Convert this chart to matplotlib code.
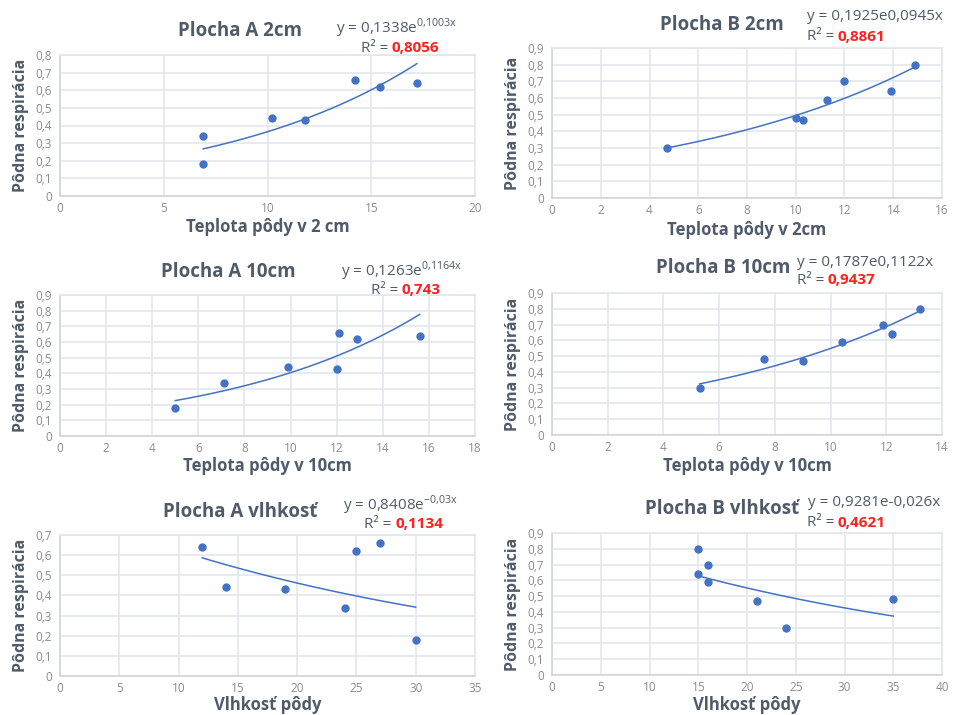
import numpy as np
import matplotlib.pyplot as plt

plt.rcParams['font.family'] = ['Open Sans', 'DejaVu Sans']
plt.rcParams['mathtext.fontset'] = 'custom'
plt.rcParams['mathtext.rm'] = 'Open Sans'

# Plocha A, teplota v 2 cm
a2_x = [6.9, 6.9, 10.2, 11.8, 14.2, 15.4, 17.2]
a2_y = [0.34, 0.18, 0.44, 0.43, 0.66, 0.62, 0.64]
a2_coef = (0.1338, 0.1003)
# Plocha B, teplota v 2 cm
b2_x = [4.7, 10.0, 10.3, 11.3, 12.0, 13.9, 14.9]
b2_y = [0.30, 0.48, 0.47, 0.59, 0.70, 0.64, 0.80]
b2_coef = (0.1925, 0.0945)
# Plocha A, teplota v 10 cm
a10_x = [5.0, 7.1, 9.9, 12.0, 12.1, 12.9, 15.6]
a10_y = [0.18, 0.34, 0.44, 0.43, 0.66, 0.62, 0.64]
a10_coef = (0.1263, 0.1164)
# Plocha B, teplota v 10 cm
b10_x = [5.3, 7.6, 9.0, 10.4, 11.9, 12.2, 13.2]
b10_y = [0.30, 0.48, 0.47, 0.59, 0.70, 0.64, 0.80]
b10_coef = (0.1787, 0.1122)
# Plocha A, vlhkosť
av_x = [12, 14, 19, 24, 25, 27, 30]
av_y = [0.64, 0.44, 0.43, 0.34, 0.62, 0.66, 0.18]
av_coef = (0.8408, -0.03)
# Plocha B, vlhkosť
bv_x = [15, 15, 16, 16, 21, 24, 35]
bv_y = [0.80, 0.64, 0.70, 0.59, 0.47, 0.30, 0.48]
bv_coef = (0.9281, -0.026)

W, H = 956, 715
fig = plt.figure(figsize=(W / 100, H / 100), dpi=100)

TITLE_C = '#4f5b6b'
TICK_C = '#8c8c8c'
GRID_C = '#e3e7ed'
BLUE = '#4472c4'


def px_axes(x0, x1, y_top, y_bot):
    return fig.add_axes([x0 / W, 1 - y_bot / H, (x1 - x0) / W, (y_bot - y_top) / H])


def panel(box, xs, ys, coef, xmax, xstep, ymax, title, eq, r2, xlabel,
          title_pos, eq_pos, r2_pos, xlabel_y, eq_sup):
    ax = px_axes(*box)
    ax.scatter(xs, ys, s=36, color=BLUE, zorder=3, linewidths=0)
    # exponential trend line from the printed coefficients
    a, b = coef
    tx = np.linspace(min(xs), max(xs), 100)
    ax.plot(tx, a * np.exp(b * tx), color=BLUE, lw=1.1, zorder=2)
    ax.set_xlim(0, xmax)
    ax.set_ylim(0, ymax)
    xt = np.arange(0, xmax + 0.01, xstep)
    ax.set_xticks(xt)
    ax.set_xticklabels([f'{v:g}' for v in xt])
    ax.set_yticks(np.arange(0, ymax + 0.001, 0.1))
    ax.set_yticklabels(['0'] + [f'{v:.1f}'.replace('.', ',')
                                for v in np.arange(0.1, ymax + 0.001, 0.1)])
    ax.grid(True, color=GRID_C, lw=1.2)
    ax.set_axisbelow(True)
    for s in ax.spines.values():
        s.set_color(GRID_C)
        s.set_linewidth(1.2)
    ax.spines['left'].set_color('#d0d5dc')
    ax.spines['bottom'].set_color('#d0d5dc')
    ax.tick_params(axis='y', length=0, labelsize=8.5, colors=TICK_C, pad=6)
    ax.tick_params(axis='x', length=0, labelsize=8.5, colors=TICK_C, pad=4)
    ax.set_ylabel('Pôdna respirácia', fontsize=11.5, fontweight='bold', color=TITLE_C, labelpad=4)
    fig.text(title_pos[0] / W, 1 - title_pos[1] / H, title, fontsize=13.5, fontweight='bold',
             color=TITLE_C, ha='center', va='center')
    base, expo = eq
    if eq_sup:
        sup = expo.replace(',', '{,}')
        eq_txt = rf'y = {base}e$^{{\mathrm{{{sup}}}}}$'
    else:
        eq_txt = f'y = {base}e{expo}'
    fig.text(eq_pos[0] / W, 1 - eq_pos[1] / H, eq_txt, fontsize=11, color=TITLE_C,
             ha='left', va='center')
    fig.text(r2_pos[0] / W, 1 - r2_pos[1] / H, 'R² = ', fontsize=11, color=TITLE_C,
             ha='right', va='center')
    fig.text(r2_pos[0] / W, 1 - r2_pos[1] / H, r2, fontsize=11, color='#ff2020',
             fontweight='bold', ha='left', va='center')
    fig.text((box[0] + box[1]) / 2 / W, 1 - xlabel_y / H, xlabel, fontsize=12,
             fontweight='bold', color=TITLE_C, ha='center', va='center')
    return ax


panel((60, 475, 55, 196), a2_x, a2_y, a2_coef, 20, 5, 0.8, 'Plocha A 2cm',
      ('0,1338', '0,1003x'), '0,8056', 'Teplota pôdy v 2 cm',
      (240, 31), (336, 28), (392, 48), 227, True)
panel((552, 942, 48, 198), b2_x, b2_y, b2_coef, 16, 2, 0.9, 'Plocha B 2cm',
      ('0,1925', '0,0945x'), '0,8861', 'Teplota pôdy v 2cm',
      (722, 25), (807, 17), (838, 37), 230, False)
panel((60, 475, 295, 436), a10_x, a10_y, a10_coef, 18, 2, 0.9, 'Plocha A 10cm',
      ('0,1263', '0,1164x'), '0,743', 'Teplota pôdy v 10cm',
      (228, 272), (341, 271), (402, 290), 466, True)
panel((552, 942, 293, 435), b10_x, b10_y, b10_coef, 14, 2, 0.9, 'Plocha B 10cm',
      ('0,1787', '0,1122x'), '0,9437', 'Teplota pôdy v 10cm',
      (723, 268), (797, 262), (828, 280), 466, False)
panel((60, 475, 535, 676), av_x, av_y, av_coef, 35, 5, 0.7, 'Plocha A vlhkosť',
      ('0,8408', '-0,03x'), '0,1134', 'Vlhkosť pôdy',
      (240, 512), (343, 505), (395, 524), 705, True)
panel((552, 942, 533, 675), bv_x, bv_y, bv_coef, 40, 5, 0.9, 'Plocha B vlhkosť',
      ('0,9281', '-0,026x'), '0,4621', 'Vlhkosť pôdy',
      (722, 509), (808, 503), (838, 523), 705, False)

fig.savefig('out.png', dpi=100)
